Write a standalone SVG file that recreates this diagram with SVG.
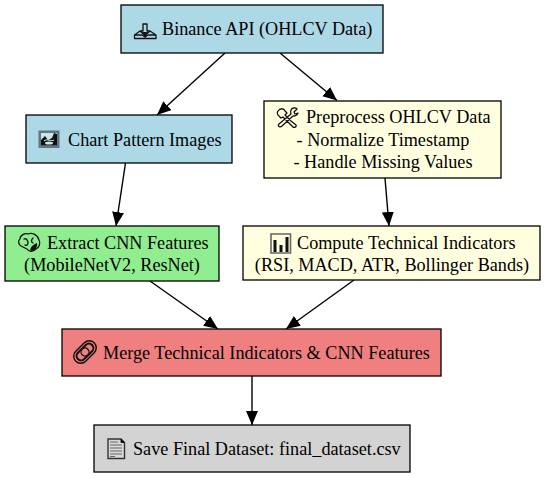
<svg xmlns="http://www.w3.org/2000/svg" width="546" height="478" viewBox="0 0 546 478">
<style>
rect.n{stroke:#000;stroke-width:1.3}
text{font-family:"Liberation Serif","Times New Roman",serif;font-size:18.2px;fill:#000}
.c{text-anchor:middle}
#edges line{stroke:#000;stroke-width:1.4;marker-end:url(#a)}
.o{fill:none;stroke:#111;stroke-width:1.3;stroke-linecap:round;stroke-linejoin:round}
.f{fill:#111;stroke:none}
</style>
<defs><marker id="a" markerUnits="userSpaceOnUse" markerWidth="16" markerHeight="14" refX="14" refY="6" orient="auto"><path d="M0 0L14 6L0 12z" fill="#000"/></marker></defs>
<rect x="0" y="0" width="546" height="478" fill="#fff"/>
<g id="edges">
<line x1="225" y1="53" x2="157" y2="115"/>
<line x1="280" y1="53" x2="337" y2="100.500"/>
<line x1="125.500" y1="163" x2="116" y2="226"/>
<line x1="385" y1="178" x2="389" y2="226"/>
<line x1="150" y1="281" x2="218" y2="329"/>
<line x1="354" y1="280" x2="286" y2="329"/>
<line x1="252" y1="376" x2="252" y2="425"/>
</g>
<g id="binance"><rect class="n" x="121" y="5" width="262" height="48" fill="#add8e6"/>
<g><path class="o" d="M143 24H147V31H150L145 35.500L140 31H143zM140 31L134.500 35V38.500H156V35L150 31M134.500 35H142L145 37L148 35H156"/><path class="f" d="M142 32H148L145 36z"/></g>
<text x="162" y="35">Binance API (OHLCV Data)</text></g>
<g id="chart"><rect class="n" x="26" y="115" width="206" height="48" fill="#add8e6"/>
<g><rect x="38.500" y="130.500" width="21" height="17.500" fill="#5f7683"/><rect x="41" y="133" width="16" height="12.500" fill="#cfe3ea"/><path class="f" d="M41 145.500V140L45 136L48 140L52 138L54 133L57 134V145.500z"/><path d="M44 141C47 138 51 142 54 140" fill="none" stroke="#dff" stroke-width="1"/><ellipse cx="49" cy="143" rx="4" ry="1.500" fill="#cfe3ea"/></g>
<text x="68" y="146">Chart Pattern Images</text></g>
<g id="preprocess"><rect class="n" x="264" y="101" width="237" height="77" fill="#ffffe0"/>
<g><path class="o" d="M278 111C280 108 284 108 285 111L287 113L285 115L291 121L296 125C297 127 294 128 293 127L283 117L281 118L279 116C277 115 277 112 278 111zM297 109C295 107 292 108 291 110C290 112 291 113 291 114L279 124C277 126 280 128 282 126L293 116C295 116 297 116 298 113L295 114L294 112z"/></g>
<text x="306" y="123">Preprocess OHLCV Data</text><text class="c" x="383" y="146">- Normalize Timestamp</text><text class="c" x="383" y="168">- Handle Missing Values</text></g>
<g id="extract"><rect class="n" x="5" y="226" width="214" height="55" fill="#90ee90"/>
<g><path class="o" d="M21 246C18 244 18 240 20 239C20 235 25 233 28 234C32 232 38 235 39 240C41 243 39 248 36 249C33 252 29 252 27 249C25 248 23 247 21 246zM24 239C26 238 28 240 28 243C28 245 26 246 25 245M33 238C31 240 31 242 33 243"/><path class="f" d="M30 250C31 246 34 244 37 243C38 247 35 250 32 251z"/></g>
<text x="47" y="249">Extract CNN Features</text><text class="c" x="112" y="271">(MobileNetV2, ResNet)</text></g>
<g id="compute"><rect class="n" x="243" y="226" width="297" height="54" fill="#ffffe0"/>
<g><path d="M271 253V234H290.500V253z" fill="none" stroke="#666" stroke-width="1.600"/><path class="f" d="M273.500 240H276.500V252H273.500zM279.500 245H282.500V252H279.500zM285.500 237H288.500V252H285.500z"/></g>
<text x="297" y="249">Compute Technical Indicators</text><text class="c" x="392" y="271">(RSI, MACD, ATR, Bollinger Bands)</text></g>
<g id="merge"><rect class="n" x="62" y="329" width="379" height="47" fill="#f08080"/>
<g transform="rotate(-45 85 352)"><rect x="72" y="345" width="26" height="14" rx="7" fill="none" stroke="#111" stroke-width="1.500"/><rect x="75" y="347.500" width="20" height="9" rx="4.500" fill="none" stroke="#111" stroke-width="2"/><circle cx="85" cy="352" r="4" fill="#f08080" stroke="#111" stroke-width="1.300"/></g>
<text x="103" y="359">Merge Technical Indicators &amp; CNN Features</text></g>
<g id="save"><rect class="n" x="94" y="425" width="316" height="47" fill="#d3d3d3"/>
<g><path d="M108 439H121L124.500 442.500V458.500H108z" fill="#d8d8d8" stroke="#333" stroke-width="1.400"/><path d="M121 439L124.500 442.500H121z" fill="#111" stroke="#111"/><path d="M110 442H118M110 445H122M110 448H122M110 451H122M110 454H122M110 456.500H115" stroke="#666" stroke-width="1" fill="none"/></g>
<text x="133" y="455">Save Final Dataset: final_dataset.csv</text></g>
</svg>
